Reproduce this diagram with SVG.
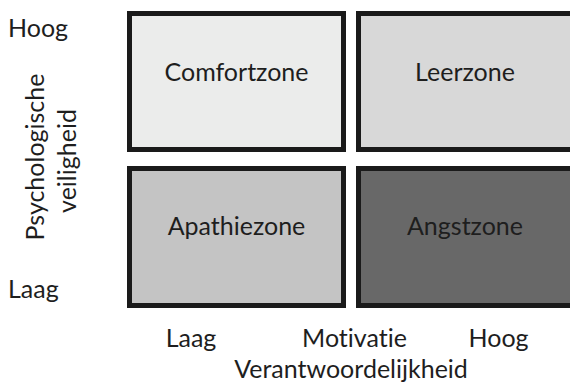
<svg xmlns="http://www.w3.org/2000/svg" width="570" height="383" viewBox="0 0 570 383">
<style>
.box{stroke:#1a1a1a;stroke-width:5}
.t{font-family:Lato,"Noto Sans",sans-serif;font-size:25px;font-weight:400;fill:#1e1e1e;font-variant-ligatures:none;font-feature-settings:"liga" 0,"dlig" 0}
.m{text-anchor:middle}
</style>
<rect width="570" height="383" fill="#ffffff"/>
<g id="comfortzone">
<rect class="box" x="129.5" y="13.5" width="214" height="136" fill="#ebeceb"/>
<text class="t m" x="236.5" y="81">Comfortzone</text>
</g>
<g id="leerzone">
<rect class="box" x="358.5" y="13.5" width="220" height="136" fill="#d8d8d8"/>
<text class="t m" x="465" y="81">Leerzone</text>
</g>
<g id="apathiezone">
<rect class="box" x="129.5" y="168.5" width="214" height="137" fill="#c4c4c4"/>
<text class="t m" x="236.5" y="235">Apathiezone</text>
</g>
<g id="angstzone">
<rect class="box" x="358.5" y="168.5" width="220" height="137" fill="#686868"/>
<text class="t m" x="465" y="235">Angstzone</text>
</g>
<g id="y-axis">
<text class="t" x="8" y="37">Hoog</text>
<text class="t" x="8" y="298">Laag</text>
<text class="t m" transform="translate(43.5,157) rotate(-90)">Psychologische</text>
<text class="t m" transform="translate(75.5,161) rotate(-90)">veiligheid</text>
</g>
<g id="x-axis">
<text class="t m" x="191" y="347">Laag</text>
<text class="t m" x="354.5" y="347">Motivatie</text>
<text class="t m" x="498.5" y="347">Hoog</text>
<text class="t m" x="351" y="378">Verantwoordelijkheid</text>
</g>
</svg>
